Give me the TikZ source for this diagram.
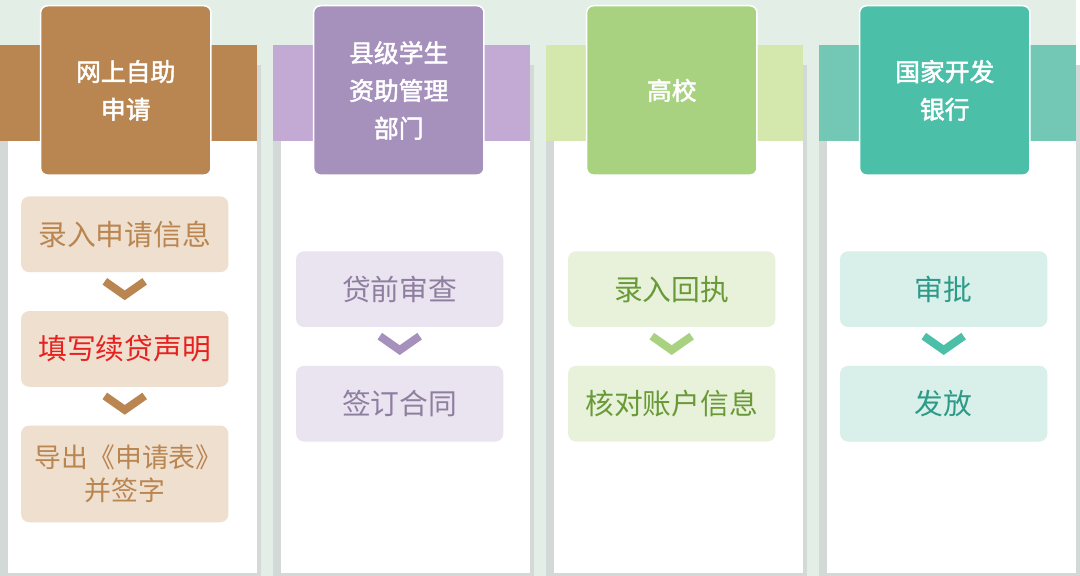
\documentclass[tikz,border=0pt]{standalone}
\usepackage{fontspec}
\usetikzlibrary{calc}
\newfontfamily\cjk{Noto Sans CJK SC}
\newfontfamily\cjkb{Noto Sans CJK SC}[FakeBold=2]
\definecolor{bg}{HTML}{E3EFE6}
\definecolor{shadow}{HTML}{D3D9D6}
\definecolor{brH}{HTML}{B98550}\definecolor{brI}{HTML}{EFDFCF}
\definecolor{puH}{HTML}{A690BC}\definecolor{puB}{HTML}{C3AAD4}\definecolor{puI}{HTML}{EAE4F0}\definecolor{puT}{HTML}{8E7FA0}
\definecolor{grH}{HTML}{A8D27F}\definecolor{grB}{HTML}{D4E7AC}\definecolor{grI}{HTML}{E8F2DA}\definecolor{grT}{HTML}{6A9A38}
\definecolor{teH}{HTML}{4CBFA9}\definecolor{teB}{HTML}{72C8B5}\definecolor{teI}{HTML}{D9EFEA}\definecolor{teT}{HTML}{2E9A89}
\definecolor{redT}{HTML}{E8201E}
\tikzset{
 hbox/.style={draw=white,line width=1.5bp,rounded corners=7bp,minimum width=171bp,minimum height=170bp,anchor=north west,inner sep=0pt,font=\cjkb\fontsize{25}{38}\selectfont,text=white,align=center},
 ibox/.style={rounded corners=8bp,minimum width=208bp,minimum height=76bp,anchor=north west,inner sep=0pt,font=\cjk\fontsize{29}{36}\selectfont,align=center},
 chev/.style={line width=8bp,line join=miter}
}
\begin{document}
\begin{tikzpicture}[x=1bp,y=-1bp]
\fill[bg] (0,0) rectangle (1080,578);
\foreach \x/\b/\p in {0/brH/0,274/puB/1,548/grB/2,822/teB/3}{
  \fill[shadow] (\x,65) rectangle (\x+262,578);
  \fill[white] (\x+8,142) rectangle (\x+258,575);
  \fill[\b] (\x,45) rectangle (\x+258,142);
}
% headers
\node[hbox,fill=brH] (h1) at (40,5) {网上自助\\申请};
\node[hbox,fill=puH] (h2) at (314,5) {县级学生\\资助管理\\部门};
\node[hbox,fill=grH] (h3) at (588,5) {高校};
\node[hbox,fill=teH] (h4) at (862,5) {国家开发\\银行};
% column 1
\node[ibox,fill=brI,text=brH] (a1) at (21,197) {录入申请信息};
\node[ibox,fill=brI,text=redT] (a2) at (21,312) {填写续贷声明};
\node[ibox,fill=brI,text=brH,minimum height=97bp,font=\cjk\fontsize{27}{34}\selectfont] (a3) at (21,427) {\hspace*{8bp}导出《申请表》\\并签字};
% column 2
\node[ibox,fill=puI,text=puT] (b1) at (297,252) {贷前审查};
\node[ibox,fill=puI,text=puT] (b2) at (297,367) {签订合同};
% column 3
\node[ibox,fill=grI,text=grT] (c1) at (570,252) {录入回执};
\node[ibox,fill=grI,text=grT] (c2) at (570,367) {核对账户信息};
% column 4
\node[ibox,fill=teI,text=teT] (d1) at (843,252) {审批};
\node[ibox,fill=teI,text=teT] (d2) at (843,367) {发放};
% chevrons
\foreach \m/\c in {a1/brH,a2/brH,b1/puH,c1/grH,d1/teH}{
  \path (\m.south) coordinate (t);
  \draw[chev,\c] ($(t)+(-20,9)$) -- ($(t)+(0,23)$) -- ($(t)+(20,9)$);
}
\end{tikzpicture}
\end{document}
